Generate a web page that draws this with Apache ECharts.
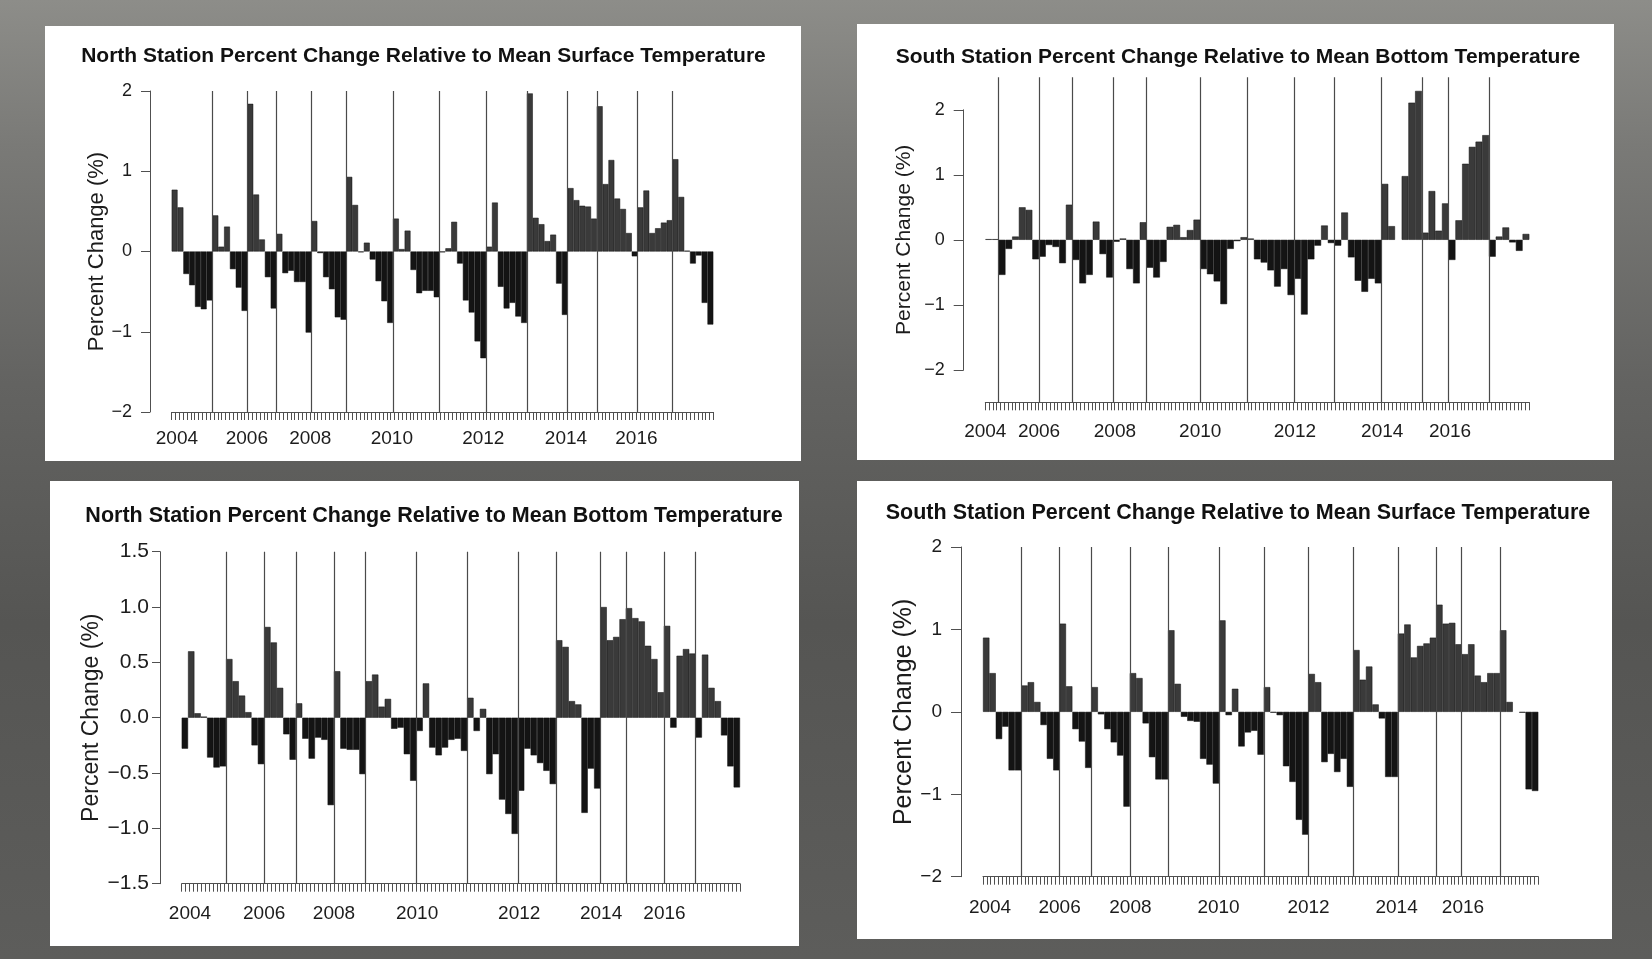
<!DOCTYPE html>
<html>
<head>
<meta charset="utf-8">
<title>Percent Change Relative to Mean Temperature</title>
<script src="https://cdn.jsdelivr.net/npm/echarts@6.0.0/dist/echarts.min.js"></script>
<style>
  html, body { margin: 0; padding: 0; overflow: hidden; }
  body {
    width: 1652px; height: 959px;
    background: linear-gradient(180deg, #8d8d89 0%, #7a7a77 15%, #636361 40%, #555553 65%, #5d5d5b 100%);
  }
  #chart { width: 1652px; height: 959px; }
</style>
</head>
<body>
<div id="chart"></div>
<script>
// year labels under each time axis
const yearLabels = ['2004', '2006', '2008', '2010', '2012', '2014', '2016']

// North station, surface (top left) - one value per sampled month
const northSurface = [
  0.77, 0.55, -0.28, -0.42, -0.69, -0.72, -0.61,
  0.45, 0.06, 0.31, -0.22, -0.45, -0.74,
  1.84, 0.71, 0.15, -0.32, -0.71,
  0.22, -0.27, -0.24, -0.38, -0.38, -1.01,
  0.38, -0.02, -0.32, -0.47, -0.82, -0.85,
  0.93, 0.58, -0.01, 0.11, -0.10, -0.37, -0.62, -0.89,
  0.41, 0.03, 0.26, -0.23, -0.52, -0.49, -0.49, -0.57,
  -0.01, 0.04, 0.37, -0.15, -0.61, -0.76, -1.12, -1.33,
  0.06, 0.61, -0.44, -0.71, -0.64, -0.81, -0.89,
  1.97, 0.42, 0.34, 0.13, 0.21, -0.40, -0.79,
  0.79, 0.64, 0.57, 0.56, 0.41,
  1.81, 0.84, 1.14, 0.66, 0.53, 0.23, -0.06,
  0.55, 0.76, 0.23, 0.29, 0.36, 0.39,
  1.15, 0.68, 0.01, -0.15, -0.05, -0.64, -0.91
]
const northSurfaceYearStarts = [7, 13, 18, 24, 30, 38, 46, 54, 61, 68, 73, 80, 86]
const northSurfaceLabelAt = [0.9, 12.9, 23.8, 37.8, 53.5, 67.7, 79.8]

// South station, bottom (top right)
const southBottom = [
  0.01, 0.01,
  -0.54, -0.14, 0.05, 0.50, 0.46, -0.30,
  -0.26, -0.08, -0.11, -0.36, 0.54,
  -0.31, -0.67, -0.54, 0.28, -0.22, -0.58,
  -0.03, 0.02, -0.45, -0.67, 0.27,
  -0.43, -0.58, -0.34, 0.20, 0.23, 0.04, 0.15, 0.31,
  -0.45, -0.53, -0.64, -0.99, -0.14, -0.02, 0.04,
  0.02, -0.30, -0.35, -0.47, -0.72, -0.45, -0.85,
  -0.60, -1.15, -0.30, -0.09, 0.22, -0.05,
  -0.09, 0.42, -0.27, -0.63, -0.80, -0.60, -0.67,
  0.86, 0.21, null, 0.98, 2.11, 2.29,
  0.11, 0.75, 0.14, 0.56,
  -0.31, 0.30, 1.17, 1.43, 1.51, 1.61,
  -0.26, 0.05, 0.19, -0.04, -0.17, 0.09
]
const southBottomYearStarts = [2, 8, 13, 19, 24, 32, 39, 46, 52, 59, 65, 69, 75]
const southBottomLabelAt = [0, 8, 19.3, 32, 46.1, 59.1, 69.2]

// North station, bottom (bottom left)
const northBottom = [
  -0.28, 0.60, 0.04, 0.01, -0.36, -0.45, -0.44,
  0.53, 0.33, 0.20, 0.05, -0.25, -0.42,
  0.82, 0.68, 0.27, -0.15, -0.38,
  0.13, -0.19, -0.37, -0.18, -0.20, -0.79,
  0.42, -0.28, -0.29, -0.29, -0.51,
  0.33, 0.39, 0.10, 0.17, -0.10, -0.09, -0.33, -0.57,
  -0.12, 0.31, -0.27, -0.34, -0.27, -0.20, -0.19, -0.30,
  0.18, -0.12, 0.08, -0.51, -0.33, -0.74, -0.87, -1.05,
  -0.66, -0.28, -0.34, -0.41, -0.48, -0.60,
  0.70, 0.64, 0.15, 0.12, -0.86, -0.46, -0.64,
  1.00, 0.70, 0.73, 0.89,
  0.99, 0.90, 0.87, 0.65, 0.53, 0.23,
  0.83, -0.09, 0.56, 0.62, 0.58,
  -0.18, 0.57, 0.27, 0.15, -0.16, -0.44, -0.63
]
const northBottomYearStarts = [7, 13, 18, 24, 29, 37, 45, 53, 59, 66, 70, 76, 81]
const northBottomLabelAt = [1.3, 13, 24, 37.1, 53.2, 66.1, 76.1]

// South station, surface (bottom right)
const southSurface = [
  0.90, 0.47, -0.33, -0.18, -0.71, -0.71,
  0.32, 0.36, 0.12, -0.16, -0.57, -0.71,
  1.07, 0.31, -0.21, -0.36, -0.68,
  0.30, -0.03, -0.21, -0.37, -0.53, -1.15,
  0.47, 0.41, -0.14, -0.55, -0.82, -0.82,
  0.99, 0.34, -0.06, -0.11, -0.12, -0.57, -0.64, -0.87,
  1.11, -0.04, 0.28, -0.42, -0.25, -0.23, -0.52,
  0.30, -0.01, -0.04, -0.66, -0.85, -1.31, -1.49,
  0.46, 0.36, -0.61, -0.51, -0.73, -0.57, -0.91,
  0.75, 0.39, 0.55, 0.09, -0.08, -0.79, -0.79,
  0.95, 1.06, 0.66, 0.80, 0.83, 0.90,
  1.30, 1.07, 1.08, 0.82,
  0.70, 0.82, 0.44, 0.36, 0.47, 0.47,
  0.99, 0.12, null, -0.01, -0.94, -0.96
]
const southSurfaceYearStarts = [6, 12, 17, 23, 29, 37, 44, 51, 58, 65, 71, 75, 81]
const southSurfaceLabelAt = [1.1, 12, 23.1, 36.9, 51, 64.8, 75.2]

const FONT = "'Liberation Sans', Arial, Helvetica, sans-serif"
const TEXT = '#1c1c1c'
const AXIS = '#505050'
const POS = '#3a3a3a'
const NEG = '#141414'

// layout of the four panels (pixels)
const panels = [
  {
    title: 'North Station Percent Change Relative to Mean Surface Temperature',
    values: northSurface, starts: northSurfaceYearStarts, labelAt: northSurfaceLabelAt,
    range: [-2, 2], shown: [-2, 2], step: 1, dec: 0, comb: 141,
    box: [45, 26, 756, 435], plot: [171.7, 91, 541.6, 321], axisX: 150,
    titleAt: [423.5, 56], titleSize: 21, nameSize: 22, nameGap: 41,
    yLabelSize: 18, yMargin: 18, yTick: 9, xMargin: 17
  },
  {
    title: 'South Station Percent Change Relative to Mean Bottom Temperature',
    values: southBottom, starts: southBottomYearStarts, labelAt: southBottomLabelAt,
    range: [-2.5, 2.5], shown: [-2, 2], step: 1, dec: 0, comb: 143,
    box: [857, 24, 757, 436], plot: [985.3, 77.3, 544, 325], axisX: 963.7,
    titleAt: [1238, 57], titleSize: 21, nameSize: 21, nameGap: 49,
    yLabelSize: 18, yMargin: 19, yTick: 10, xMargin: 20
  },
  {
    title: 'North Station Percent Change Relative to Mean Bottom Temperature',
    values: northBottom, starts: northBottomYearStarts, labelAt: northBottomLabelAt,
    range: [-1.5, 1.5], shown: [-1.5, 1.5], step: 0.5, dec: 1, comb: 143,
    box: [50, 481, 749, 465], plot: [181.7, 551.7, 558.3, 332], axisX: 160,
    titleAt: [434, 516], titleSize: 21.5, nameSize: 23, nameGap: 56,
    yLabelSize: 21, yMargin: 11, yTick: 8, xMargin: 21
  },
  {
    title: 'South Station Percent Change Relative to Mean Surface Temperature',
    values: southSurface, starts: southSurfaceYearStarts, labelAt: southSurfaceLabelAt,
    range: [-2, 2], shown: [-2, 2], step: 1, dec: 0, comb: 146,
    box: [857, 481, 755, 458], plot: [983, 547, 555.3, 329.7], axisX: 961,
    titleAt: [1238, 513], titleSize: 21.5, nameSize: 25, nameGap: 44,
    yLabelSize: 19, yMargin: 19, yTick: 10, xMargin: 22
  }
]

const grid = []
const xAxis = []
const yAxis = []
const series = []
const graphic = []

panels.forEach((p, k) => {
  const [bx, by, bw, bh] = p.box
  const [px, py, pw, ph] = p.plot
  const span = p.range[1] - p.range[0]
  const axTop = py + (p.range[1] - p.shown[1]) / span * ph
  const axH = (p.shown[1] - p.shown[0]) / span * ph

  graphic.push({
    type: 'rect', z: -10, silent: true,
    shape: { x: bx, y: by, width: bw, height: bh },
    style: { fill: '#ffffff' }
  })
  graphic.push({
    type: 'text', z: 10, silent: true, x: p.titleAt[0], y: p.titleAt[1],
    style: {
      text: p.title, fill: '#111', fontFamily: FONT, fontWeight: 'bold', fontSize: p.titleSize,
      align: 'center', verticalAlign: 'middle', textAlign: 'center', textVerticalAlign: 'middle'
    }
  })

  // plot grid + y-axis grid
  grid.push({ left: px, top: py, width: pw, height: ph })
  grid.push({ left: p.axisX, top: axTop, width: px + pw - p.axisX, height: axH })

  const n = p.values.length
  // month slots, carries the year labels
  xAxis.push({
    type: 'value', gridIndex: 2 * k, min: 0, max: n, position: 'bottom',
    axisLine: { show: false }, axisTick: { show: false }, splitLine: { show: false },
    axisLabel: {
      customValues: p.labelAt,
      formatter: v => yearLabels[p.labelAt.indexOf(v)] || '',
      margin: p.xMargin, fontSize: 19, fontFamily: FONT, color: TEXT
    }
  })
  // the comb of small ticks under the bars
  xAxis.push({
    type: 'value', gridIndex: 2 * k, min: 0, max: p.comb, interval: 1, position: 'bottom',
    axisLine: { show: true, lineStyle: { color: AXIS, width: 1 } },
    axisTick: { show: true, length: 8, lineStyle: { color: AXIS, width: 1 } },
    axisLabel: { show: false }, splitLine: { show: false }
  })
  xAxis.push({ type: 'value', gridIndex: 2 * k + 1, min: 0, max: 1, show: false })

  yAxis.push({ type: 'value', gridIndex: 2 * k, min: p.range[0], max: p.range[1], show: false })
  yAxis.push({
    type: 'value', gridIndex: 2 * k + 1, min: p.shown[0], max: p.shown[1], interval: p.step,
    position: 'left',
    axisLine: { show: true, lineStyle: { color: AXIS, width: 1 } },
    axisTick: { show: true, length: p.yTick, lineStyle: { color: AXIS, width: 1 } },
    splitLine: { show: false },
    axisLabel: {
      formatter: v => v.toFixed(p.dec).replace('-', '\u2212'),
      margin: p.yMargin, fontSize: p.yLabelSize, fontFamily: FONT, color: TEXT
    },
    name: 'Percent Change (%)', nameLocation: 'middle', nameRotate: 90, nameGap: p.nameGap,
    nameTextStyle: { fontSize: p.nameSize, fontFamily: FONT, color: TEXT }
  })

  series.push({
    type: 'bar',
    xAxisIndex: 3 * k, yAxisIndex: 2 * k,
    data: p.values.map((v, i) => [i + 0.5, v == null ? '-' : v]),
    barWidth: '100%',
    itemStyle: {
      color: params => (params.value[1] >= 0 ? POS : NEG),
      borderColor: '#0e0e0e', borderWidth: 0.5
    },
    markLine: {
      symbol: 'none', silent: true, animation: false,
      label: { show: false },
      lineStyle: { color: '#4a4a4a', width: 1.2, type: 'solid' },
      emphasis: { disabled: true },
      data: p.starts.map(s => ({ xAxis: s }))
    },
    animation: false
  })
})

const chart = echarts.init(document.getElementById('chart'))
chart.setOption({
  backgroundColor: 'transparent',
  animation: false,
  grid, xAxis, yAxis, series, graphic
})
</script>
</body>
</html>
